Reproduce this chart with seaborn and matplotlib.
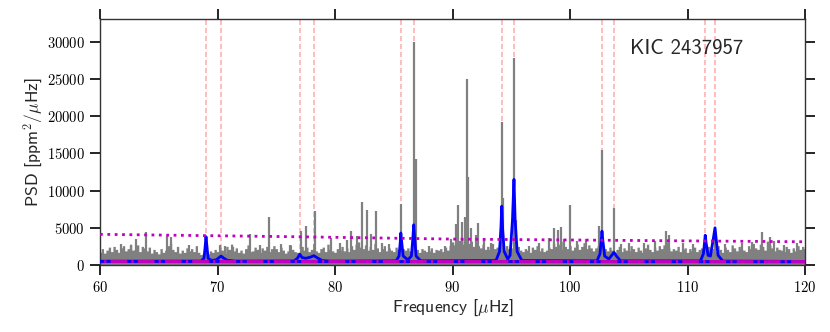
import numpy as np
import matplotlib
matplotlib.use("Agg")
import matplotlib.pyplot as plt
import seaborn as sns

# ── Data ──────────────────────────────────────────────────────────────────────
# noise level of the power spectrum, one value per 0.2 uHz bin (60 → 120)
noise_psd = [
    1700, 2200, 1600, 2000, 2400,  1800, 2500, 2100, 1700, 2300,   # 60, 61
    2600, 1900, 2200, 2800, 2000,  2100, 2700, 1800, 2500, 2300,   # 62, 63
    1900, 2400, 1600, 2100, 1800,  1500, 2200, 1700, 2000, 2600,   # 64, 65
    2900, 2100, 1800, 2500, 1600,  2000, 1700, 2300, 1900, 2200,   # 66, 67
    1800, 2600, 1700, 1400, 1600,  2300, 1500, 1900, 1700, 2100,   # 68, 69
    1800, 2400, 2000, 1600, 2500,  2100, 2800, 1900, 2300, 1700,   # 70, 71
    2000, 1600, 2200, 2700, 1800,  1900, 2400, 2100, 1700, 2300,   # 72, 73
    2000, 2500, 1800, 2200, 2600,  2200, 1800, 2400, 2000, 1600,   # 74, 75
    1900, 2700, 2100, 1800, 1700,  1600, 2500, 2000, 2400, 1800,   # 76, 77
    2100, 2900, 1900, 1700, 2200,  2400, 1800, 2800, 2100, 1900,   # 78, 79
    1700, 2200, 2000, 2500, 1900,  2300, 1800, 2600, 2100, 2800,   # 80, 81
    3100, 2400, 2200, 2700, 2000,  2500, 2100, 2900, 2300, 1800,   # 82, 83
    2200, 2600, 1900, 2300, 2000,  1800, 2400, 2100, 1700, 2200,   # 84, 85
    2000, 2300, 1900, 1800, 2500,  2100, 1700, 2200, 2000, 1800,   # 86, 87
    1900, 2300, 1700, 2100, 2000,  2200, 1800, 2400, 2000, 2600,   # 88, 89
    3100, 2700, 3500, 3300, 2800,  3600, 4100, 2900, 3200, 2500,   # 90, 91
    3100, 2600, 2300, 2800, 2100,  2500, 2100, 2900, 2200, 2400,   # 92, 93
    2700, 2300, 2000, 2600, 2200,  2300, 1900, 2100, 2500, 2000,   # 94, 95
    1800, 2200, 2000, 1700, 2400,  2100, 2600, 1900, 2300, 1800,   # 96, 97
    2000, 2400, 2200, 2900, 2500,  2800, 2100, 3200, 2500, 2200,   # 98, 99
    2600, 2000, 2400, 2800, 2100,  2500, 3000, 2200, 2700, 2300,   # 100, 101
    1900, 2300, 2600, 2100, 1800,  2200, 1900, 2400, 2000, 1700,   # 102, 103
    2100, 2500, 1800, 2300, 2000,  1900, 2600, 2200, 1800, 2400,   # 104, 105
    2000, 1700, 2300, 2800, 2100,  1800, 2400, 2000, 2600, 2200,   # 106, 107
    2700, 3100, 2300, 1900, 2200,  2000, 2500, 1800, 2100, 2300,   # 108, 109
    1700, 2200, 1900, 2400, 1800,  2100, 2300, 1600, 2000, 2500,   # 110, 111
    1900, 2200, 1800, 2600, 2100,  1700, 2400, 2100, 1800, 2700,   # 112, 113
    2300, 1900, 2500, 2100, 2000,  1800, 2600, 2200, 2900, 2300,   # 114, 115
    2100, 2800, 2500, 2000, 3200,  2700, 2300, 1900, 2400, 2100,   # 116, 117
    2000, 1800, 2500, 2200, 1700,  2300, 1900, 2600, 2100, 2500,   # 118, 119
    2200,                                                          # 120
]
noise_freq = np.round(60.0 + 0.2 * np.arange(len(noise_psd)), 1)

# narrow spikes standing above the noise
spike_freq = [61.8, 62.6, 63.1, 63.9, 65.7, 66.0, 67.6, 69.0, 70.2, 70.6,
              71.3, 72.8, 73.6, 74.4, 75.4, 76.2, 77.1, 77.5, 78.27, 79.7,
              80.4, 81.0, 81.4, 81.9, 82.3, 82.7, 83.1, 83.5, 84.0, 84.6,
              85.6, 86.72, 86.85, 88.0, 89.4, 89.9, 90.3, 90.5, 90.8, 91.05,
              91.22, 91.35, 91.6, 92.0, 92.2, 92.7, 93.3, 94.19, 94.3, 95.23,
              95.4, 96.5, 97.4, 98.2, 98.6, 99.0, 99.2, 99.5, 100.0, 100.6,
              101.4, 102.5, 102.72, 103.74, 104.3, 105.0, 106.3, 107.2, 108.2, 108.4,
              109.6, 110.5, 111.5, 112.3, 113.2, 114.6, 115.5, 116.3, 117.0, 117.4,
              118.2, 119.3]
spike_psd = [2800, 2600, 3500, 4400, 3900, 3800, 2700, 3900, 2700, 2500,
             2400, 4100, 2700, 6400, 2800, 2700, 4600, 5200, 7300, 3600,
             3000, 3400, 4500, 3900, 8500, 7400, 4200, 7300, 3000, 2800,
             8200, 30000, 14300, 2600, 2500, 3500, 5500, 8000, 5800, 6500,
             25000, 11800, 5000, 4000, 5600, 3500, 3000, 19200, 9000, 27800,
             6000, 2600, 3000, 3600, 5000, 4700, 5100, 3500, 8000, 3200,
             3500, 5300, 15400, 7700, 2800, 3000, 2900, 3200, 4500, 4000,
             3000, 2800, 4000, 4800, 2800, 3000, 3100, 4400, 3800, 3200,
             2700, 2900]

# fitted mode profile (blue)
model_freq = [60.0, 68.6, 68.85, 68.95, 69.02, 69.1, 69.2, 69.5, 69.9, 70.1,
              70.3, 70.5, 70.8, 71.5, 76.5, 76.8, 77.0, 77.2, 77.5, 77.9,
              78.2, 78.5, 78.9, 79.6, 85.2, 85.45, 85.55, 85.6, 85.68, 85.8,
              86.2, 86.5, 86.62, 86.7, 86.78, 86.9, 87.3, 93.7, 94.0, 94.12,
              94.19, 94.26, 94.4, 94.7, 94.9, 95.1, 95.23, 95.33, 95.5, 95.9,
              102.3, 102.55, 102.65, 102.72, 102.8, 102.95, 103.3, 103.55, 103.74, 103.95,
              104.3, 111.1, 111.35, 111.45, 111.51, 111.58, 111.75, 111.95, 112.17, 112.34,
              112.45, 112.6, 113.0, 120.0]
model_psd = [500, 520, 900, 2500, 3800, 2500, 900, 600, 700, 950,
             1200, 950, 650, 520, 540, 900, 1450, 1000, 900, 1050,
             1250, 950, 600, 520, 560, 1200, 3000, 4300, 3000, 1200,
             700, 1200, 3500, 5400, 3500, 1200, 560, 600, 1800, 5000,
             7900, 5000, 1800, 800, 1300, 6000, 11500, 6000, 1800, 600,
             560, 1500, 3200, 4550, 3200, 1200, 800, 1300, 1700, 1200,
             560, 550, 1500, 3000, 4000, 3000, 1300, 1200, 3300, 5000,
             3300, 1300, 530, 480]

# background fit and detection threshold (magenta)
bg_freq = [60, 80, 100, 120]
bg_psd = [480, 460, 450, 440]
thresh_freq = [60, 77, 90, 105, 120]
thresh_psd = [4120, 3790, 3480, 3300, 3120]

# mode frequencies (red dashed)
mode_freq = [69.02, 70.30, 77.02, 78.21, 85.59, 86.72,
             94.19, 95.23, 102.70, 103.74, 111.51, 112.34]

# ── Style ─────────────────────────────────────────────────────────────────────
sns.set_style("ticks")
plt.rcParams["mathtext.fontset"] = "cm"
plt.rcParams["axes.formatter.use_mathtext"] = True

fig = plt.figure(figsize=(8.3, 3.32), dpi=100)
ax = fig.add_axes([0.1205, 0.2018, 0.8494, 0.7401])

for f in mode_freq:
    ax.axvline(f, color="#ffb0b0", lw=1.2, ls=(0, (3, 1.8)), zorder=1)

ax.fill_between(noise_freq, 0, noise_psd, step="mid", color="grey", lw=0, zorder=2)
ax.vlines(spike_freq, 0, spike_psd, color="grey", lw=1.6, zorder=2)

sns.lineplot(x=model_freq, y=model_psd, color="blue", lw=2, ax=ax,
             estimator=None, sort=False, zorder=3)
sns.lineplot(x=bg_freq, y=bg_psd, color="m", lw=2.4, ax=ax, estimator=None, zorder=4)
sns.lineplot(x=bg_freq, y=bg_psd, color="blue", lw=2, ls=(0, (1.5, 0.8, 1.5, 6)),
             ax=ax, estimator=None, zorder=5)
sns.lineplot(x=thresh_freq, y=thresh_psd, color="m", lw=2, ls=":", ax=ax,
             estimator=None, zorder=5)

ax.set_xlim(60, 120)
ax.set_ylim(0, 33000)
ax.set_xticks(np.arange(60, 121, 10))
ax.set_yticks(np.arange(0, 30001, 5000))

ax.tick_params(which="both", direction="out", length=7, width=1.2,
               top=True, right=True, labeltop=False, labelright=False,
               labelsize=10.5, pad=4, colors="black")
for lab in ax.get_xticklabels() + ax.get_yticklabels():
    lab.set_family("cmr10")
for side in ["left", "right", "top", "bottom"]:
    ax.spines[side].set_visible(True)
    ax.spines[side].set_linewidth(1.0)
    ax.spines[side].set_color("#333333")

ax.set_xlabel(r"Frequency [$\mu$Hz]", family="cmss10", fontsize=12.7, labelpad=2)
ax.set_ylabel(r"PSD [ppm$^2$/$\mu$Hz]", family="cmss10", fontsize=12.7, labelpad=1)
ax.text(0.752, 0.882, "KIC 2437957", transform=ax.transAxes, family="cmss10",
        fontsize=15, ha="left", va="center")

fig.savefig("out.png", dpi=100)
